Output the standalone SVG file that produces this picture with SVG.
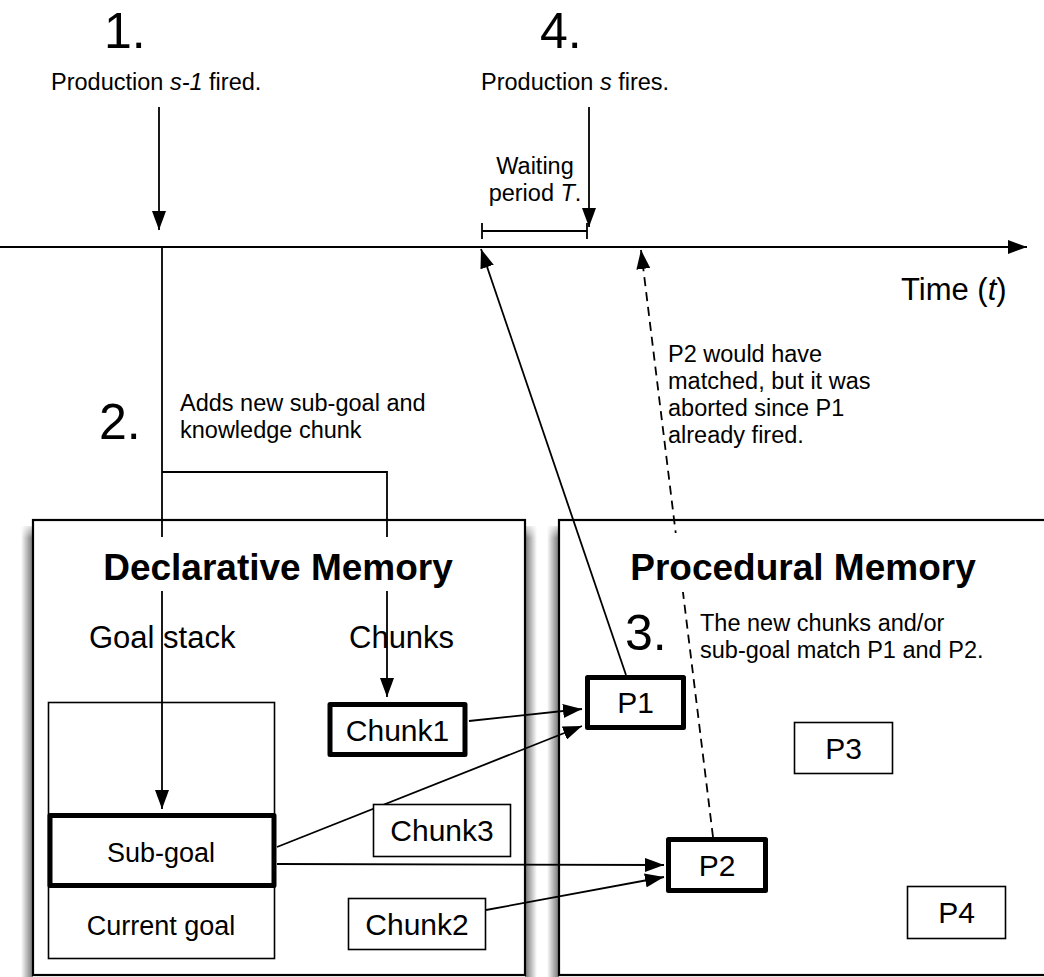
<svg xmlns="http://www.w3.org/2000/svg" width="1044" height="977" viewBox="0 0 1044 977">
<style>
text{font-family:"Liberation Sans",Arial,Helvetica,sans-serif;fill:#000}
.lbl{font-size:23.5px}
.num{font-size:50px}
.head{font-size:37px;font-weight:bold;text-anchor:middle}
.sub{font-size:31px}
.nt{font-size:30px;text-anchor:middle}
.gt{font-size:27px;text-anchor:middle}
.mid{text-anchor:middle}
.cont{fill:#fff;stroke:#000;stroke-width:2.2}
.thin{fill:#fff;stroke:#000;stroke-width:1.6}
.open{fill:none;stroke:#000;stroke-width:1.6}
.thick{fill:#fff;stroke:#000;stroke-width:5;stroke-linejoin:round}
.c{fill:none;stroke:#000;stroke-width:1.8}
.dash{fill:none;stroke:#000;stroke-width:1.8;stroke-dasharray:9 6}
</style>
<defs>
<marker id="ah" markerWidth="19" markerHeight="14" refX="19" refY="7" orient="auto" markerUnits="userSpaceOnUse">
<path d="M0,0 L19,7 L0,14 z" fill="#000"/>
</marker>
<linearGradient id="shL" x1="0" y1="0" x2="1" y2="0">
<stop offset="0" stop-color="#000" stop-opacity="0"/>
<stop offset="1" stop-color="#000" stop-opacity="0.55"/>
</linearGradient>
<linearGradient id="shR" x1="0" y1="0" x2="1" y2="0">
<stop offset="0" stop-color="#000" stop-opacity="0.55"/>
<stop offset="1" stop-color="#000" stop-opacity="0"/>
</linearGradient>
<linearGradient id="shT" x1="0" y1="0" x2="0" y2="1">
<stop offset="0" stop-color="#fff" stop-opacity="1"/>
<stop offset="1" stop-color="#fff" stop-opacity="0"/>
</linearGradient>
</defs>
<rect width="1044" height="977" fill="#fff"/>

<g id="shadows">
<rect x="21" y="526" width="12" height="451" fill="url(#shL)"/>
<rect x="525" y="526" width="12" height="451" fill="url(#shR)"/>
<rect x="547" y="526" width="12" height="451" fill="url(#shL)"/>
<rect x="18" y="522" width="24" height="16" fill="url(#shT)"/>
<rect x="520" y="522" width="44" height="16" fill="url(#shT)"/>
</g>

<g id="dm-container"><rect class="cont" x="33" y="520" width="492" height="455"/></g>
<g id="pm-container"><rect class="cont" x="559" y="520" width="500" height="455"/></g>

<g id="timeline">
<path class="c" d="M0,247 H1027" stroke-width="2.5" marker-end="url(#ah)"/>
<path class="c" d="M482,231 H587 M482,223 V239 M587,223 V239" stroke-width="1.6"/>
</g>

<g id="goal-stack"><rect class="open" x="48.5" y="702.5" width="226" height="256"/></g>

<g id="connectors">
<path class="c" d="M159,107 V230" marker-end="url(#ah)"/>
<path class="c" d="M589,107 V227" marker-end="url(#ah)"/>
<path class="c" d="M162,247 V809" marker-end="url(#ah)"/>
<path class="c" d="M162,472 H387 V697" marker-end="url(#ah)"/>
<path class="c" d="M469,721 L582,709" marker-end="url(#ah)"/>
<path class="c" d="M277,847 L582,726" marker-end="url(#ah)"/>
<path class="c" d="M277,864 L664,865" marker-end="url(#ah)"/>
<path class="c" d="M486,910 L664,877" marker-end="url(#ah)"/>
<path class="c" d="M626,675 L481,249" marker-end="url(#ah)"/>
<path class="dash" d="M713,837 L641,250" marker-end="url(#ah)"/>
</g>

<g id="step1"><text class="num" x="104" y="48">1.</text>
<text class="lbl" x="51" y="90">Production <tspan font-style="italic">s-1</tspan> fired.</text></g>
<g id="step4"><text class="num" x="540" y="48">4.</text>
<text class="lbl" x="481" y="90">Production <tspan font-style="italic">s</tspan> fires.</text></g>
<g id="waiting"><text class="lbl mid" x="535" y="174">Waiting</text>
<text class="lbl mid" x="535" y="201">period <tspan font-style="italic">T</tspan>.</text></g>
<g id="time-label"><text class="sub" x="901" y="300">Time (<tspan font-style="italic">t</tspan>)</text></g>
<g id="p2-note"><text class="lbl" x="668" y="362">P2 would have</text>
<text class="lbl" x="668" y="389">matched, but it was</text>
<text class="lbl" x="668" y="416">aborted since P1</text>
<text class="lbl" x="668" y="443">already fired.</text></g>
<g id="step2"><text class="num" x="99" y="439">2.</text>
<text class="lbl" x="180" y="411">Adds new sub-goal and</text>
<text class="lbl" x="180" y="438">knowledge chunk</text></g>

<g id="dm-title"><rect x="80" y="537" width="400" height="54" fill="#fff"/>
<text class="head" x="278" y="580">Declarative Memory</text></g>
<g id="pm-title"><rect x="610" y="533" width="385" height="59" fill="#fff"/>
<text class="head" x="803" y="580">Procedural Memory</text></g>
<g id="goal-stack-label"><text class="sub" x="89" y="648">Goal stack</text></g>
<g id="chunks-label"><text class="sub" x="349" y="648">Chunks</text></g>
<g id="step3"><text class="num" x="625" y="650">3.</text>
<text class="lbl" x="700" y="631">The new chunks and/or</text>
<text class="lbl" x="700" y="658">sub-goal match P1 and P2.</text></g>

<g id="sub-goal"><rect class="thick" x="50" y="815.5" width="224" height="70"/>
<text class="gt" x="161" y="862">Sub-goal</text></g>
<g id="current-goal"><text class="gt" x="161" y="935">Current goal</text></g>
<g id="chunk1"><rect class="thick" x="330" y="704.5" width="135" height="50"/>
<text class="nt" x="397.5" y="741">Chunk1</text></g>
<g id="chunk3"><rect class="thin" x="373.5" y="804.5" width="137" height="52"/>
<text class="nt" x="442" y="841">Chunk3</text></g>
<g id="chunk2"><rect class="thin" x="348.5" y="898.5" width="137" height="51"/>
<text class="nt" x="417" y="935">Chunk2</text></g>
<g id="p1"><rect class="thick" x="587.5" y="677.5" width="96" height="50"/>
<text class="nt" x="635.5" y="713">P1</text></g>
<g id="p2"><rect class="thick" x="668.5" y="839.5" width="97" height="51"/>
<text class="nt" x="717" y="876">P2</text></g>
<g id="p3"><rect class="thin" x="794.5" y="722.5" width="98" height="51"/>
<text class="nt" x="843.5" y="759">P3</text></g>
<g id="p4"><rect class="thin" x="907.5" y="886.5" width="98" height="52"/>
<text class="nt" x="956.5" y="923">P4</text></g>
</svg>
